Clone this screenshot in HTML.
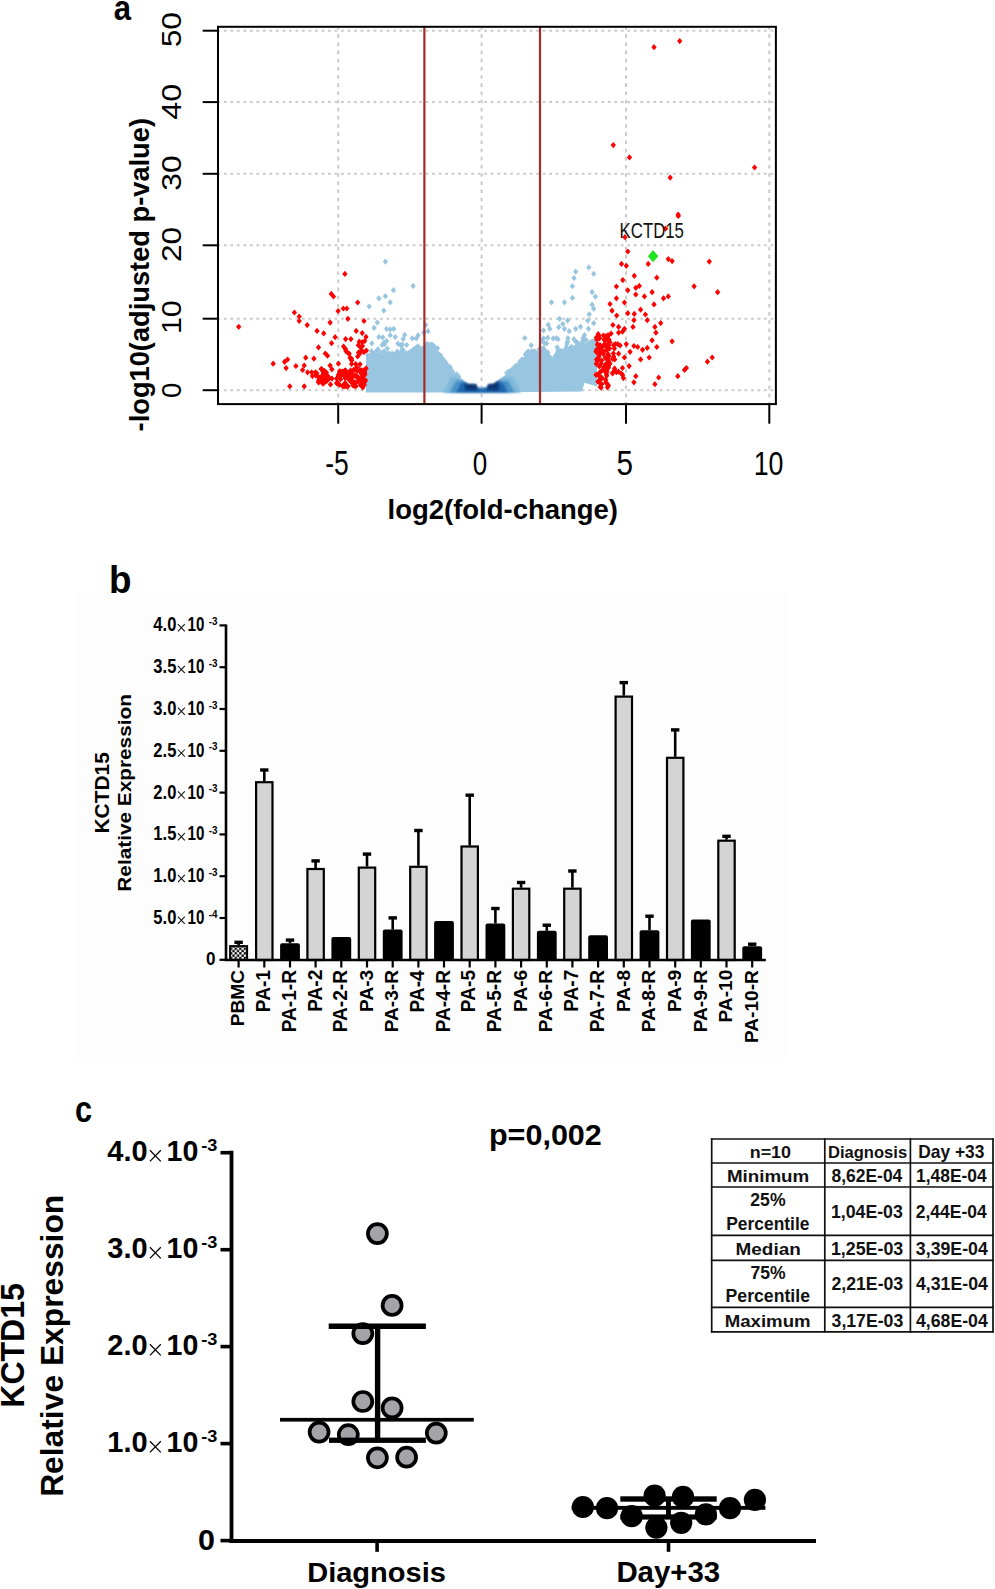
<!DOCTYPE html>
<html><head><meta charset="utf-8"><title>Figure</title>
<style>
html,body{margin:0;padding:0;background:#fff;}
body{width:995px;height:1589px;overflow:hidden;position:relative;}
svg{position:absolute;left:0;top:0;display:block;}
text{font-family:"Liberation Sans",sans-serif;}
</style></head><body>
<svg width="995" height="1589" viewBox="0 0 995 1589">
<defs><path id="dm" d="M0,-3.1L2.65,0L0,3.1L-2.65,0Z"/></defs>
<g stroke="#CACACA" stroke-width="2"><line x1="338.2" y1="27.5" x2="338.2" y2="403.5" stroke-dasharray="3.6 4.57" stroke-dashoffset="1.39"/><line x1="481.6" y1="27.5" x2="481.6" y2="403.5" stroke-dasharray="3.6 4.57" stroke-dashoffset="1.39"/><line x1="626.0" y1="27.5" x2="626.0" y2="403.5" stroke-dasharray="3.6 4.57" stroke-dashoffset="1.39"/><line x1="769.3" y1="27.5" x2="769.3" y2="403.5" stroke-dasharray="3.6 4.57" stroke-dashoffset="1.39"/><line x1="219" y1="390.2" x2="775" y2="390.2" stroke-dasharray="2.7 3.808" stroke-dashoffset="1.6"/><line x1="219" y1="318.7" x2="775" y2="318.7" stroke-dasharray="2.7 3.808" stroke-dashoffset="1.6"/><line x1="219" y1="245.3" x2="775" y2="245.3" stroke-dasharray="2.7 3.808" stroke-dashoffset="1.6"/><line x1="219" y1="173.8" x2="775" y2="173.8" stroke-dasharray="2.7 3.808" stroke-dashoffset="1.6"/><line x1="219" y1="102.1" x2="775" y2="102.1" stroke-dasharray="2.7 3.808" stroke-dashoffset="1.6"/><line x1="219" y1="30.7" x2="775" y2="30.7" stroke-dasharray="2.7 3.808" stroke-dashoffset="1.6"/></g>
<polygon fill="#98C5E0" points="366.0,392.5 366.0,356.0 373.0,354.5 380.0,355.5 386.0,355.0 393.0,354.0 399.0,352.5 406.0,354.0 412.0,351.0 419.0,347.0 423.0,347.0 428.0,344.5 434.5,347.0 438.4,354.0 445.0,363.0 451.5,369.6 458.0,376.0 464.5,381.4 467.5,383.5 476.0,383.8 477.5,387.3 482.0,387.3 482.0,392.5"/>
<polygon fill="#98C5E0" points="482.0,392.5 482.0,387.3 486.8,387.3 488.2,383.8 493.2,383.6 499.6,379.5 506.1,374.5 513.3,370.0 519.2,363.1 525.7,354.0 532.3,352.7 537.5,352.7 542.7,348.7 547.9,352.7 552.5,359.2 558.4,352.7 564.9,350.0 571.5,348.7 578.0,346.1 584.5,343.5 591.0,339.6 597.0,337.0 597.0,386.6 584.5,382.7 582.0,391.5"/>
<g fill="#98C5E0"><use href="#dm" x="368.0" y="355.4"/><use href="#dm" x="369.4" y="356.4"/><use href="#dm" x="370.7" y="355.6"/><use href="#dm" x="372.4" y="353.4"/><use href="#dm" x="374.3" y="353.3"/><use href="#dm" x="376.1" y="353.7"/><use href="#dm" x="377.5" y="355.3"/><use href="#dm" x="379.8" y="354.5"/><use href="#dm" x="381.3" y="356.4"/><use href="#dm" x="383.9" y="356.0"/><use href="#dm" x="385.6" y="357.4"/><use href="#dm" x="386.9" y="356.8"/><use href="#dm" x="388.5" y="353.7"/><use href="#dm" x="389.9" y="354.2"/><use href="#dm" x="392.2" y="353.3"/><use href="#dm" x="394.2" y="354.8"/><use href="#dm" x="395.9" y="354.0"/><use href="#dm" x="397.2" y="351.7"/><use href="#dm" x="398.7" y="353.8"/><use href="#dm" x="400.5" y="352.6"/><use href="#dm" x="402.5" y="353.6"/><use href="#dm" x="404.1" y="355.3"/><use href="#dm" x="406.3" y="353.3"/><use href="#dm" x="408.3" y="353.4"/><use href="#dm" x="410.8" y="353.0"/><use href="#dm" x="412.4" y="353.2"/><use href="#dm" x="413.7" y="350.2"/><use href="#dm" x="416.0" y="347.8"/><use href="#dm" x="417.9" y="346.3"/><use href="#dm" x="420.0" y="348.6"/><use href="#dm" x="422.0" y="349.0"/><use href="#dm" x="423.6" y="348.0"/><use href="#dm" x="425.7" y="346.5"/><use href="#dm" x="427.5" y="346.6"/><use href="#dm" x="430.0" y="345.7"/><use href="#dm" x="432.2" y="344.8"/><use href="#dm" x="434.4" y="348.0"/><use href="#dm" x="436.9" y="353.2"/><use href="#dm" x="438.5" y="354.2"/><use href="#dm" x="440.7" y="355.7"/><use href="#dm" x="442.5" y="358.8"/><use href="#dm" x="443.9" y="360.2"/><use href="#dm" x="446.2" y="363.2"/><use href="#dm" x="447.7" y="365.8"/><use href="#dm" x="450.1" y="367.0"/><use href="#dm" x="452.0" y="370.7"/><use href="#dm" x="454.4" y="374.2"/><use href="#dm" x="456.8" y="374.4"/><use href="#dm" x="458.6" y="376.4"/><use href="#dm" x="506.8" y="373.0"/><use href="#dm" x="508.8" y="371.5"/><use href="#dm" x="510.1" y="371.3"/><use href="#dm" x="511.6" y="370.9"/><use href="#dm" x="512.8" y="368.8"/><use href="#dm" x="514.3" y="367.8"/><use href="#dm" x="516.0" y="365.5"/><use href="#dm" x="518.4" y="365.0"/><use href="#dm" x="519.8" y="361.8"/><use href="#dm" x="521.5" y="359.9"/><use href="#dm" x="522.9" y="359.9"/><use href="#dm" x="525.4" y="354.7"/><use href="#dm" x="527.3" y="352.5"/><use href="#dm" x="528.7" y="353.3"/><use href="#dm" x="530.2" y="354.9"/><use href="#dm" x="531.7" y="351.4"/><use href="#dm" x="534.2" y="353.3"/><use href="#dm" x="535.6" y="353.4"/><use href="#dm" x="536.8" y="353.3"/><use href="#dm" x="539.4" y="353.2"/><use href="#dm" x="541.6" y="349.1"/><use href="#dm" x="543.3" y="348.3"/><use href="#dm" x="545.6" y="351.5"/><use href="#dm" x="547.9" y="352.5"/><use href="#dm" x="549.4" y="356.5"/><use href="#dm" x="552.0" y="360.3"/><use href="#dm" x="554.3" y="359.0"/><use href="#dm" x="556.5" y="354.2"/><use href="#dm" x="558.4" y="352.6"/><use href="#dm" x="559.7" y="350.8"/><use href="#dm" x="561.3" y="351.0"/><use href="#dm" x="563.4" y="352.9"/><use href="#dm" x="565.3" y="352.2"/><use href="#dm" x="567.9" y="351.7"/><use href="#dm" x="569.6" y="348.5"/><use href="#dm" x="571.1" y="348.1"/><use href="#dm" x="572.6" y="349.3"/><use href="#dm" x="575.0" y="349.1"/><use href="#dm" x="576.9" y="347.7"/><use href="#dm" x="579.2" y="344.5"/><use href="#dm" x="581.3" y="346.9"/><use href="#dm" x="583.6" y="345.3"/><use href="#dm" x="583.9" y="340.3"/><use href="#dm" x="406.8" y="355.9"/><use href="#dm" x="402.5" y="344.5"/><use href="#dm" x="551.9" y="360.5"/><use href="#dm" x="556.4" y="338.2"/><use href="#dm" x="397.9" y="355.7"/><use href="#dm" x="580.9" y="345.1"/><use href="#dm" x="566.8" y="343.9"/><use href="#dm" x="416.1" y="350.2"/><use href="#dm" x="434.8" y="349.2"/><use href="#dm" x="427.1" y="345.2"/><use href="#dm" x="397.9" y="343.7"/><use href="#dm" x="574.2" y="347.9"/><use href="#dm" x="577.2" y="345.9"/><use href="#dm" x="372.3" y="354.8"/><use href="#dm" x="409.7" y="355.1"/><use href="#dm" x="550.2" y="358.0"/><use href="#dm" x="533.3" y="351.6"/><use href="#dm" x="546.8" y="354.3"/><use href="#dm" x="424.7" y="347.6"/><use href="#dm" x="544.1" y="349.2"/><use href="#dm" x="541.3" y="340.6"/><use href="#dm" x="525.9" y="353.9"/><use href="#dm" x="582.7" y="341.2"/><use href="#dm" x="567.9" y="338.2"/><use href="#dm" x="427.2" y="343.8"/><use href="#dm" x="583.1" y="337.9"/><use href="#dm" x="399.3" y="354.9"/><use href="#dm" x="384.5" y="356.7"/><use href="#dm" x="384.7" y="352.6"/><use href="#dm" x="546.7" y="343.4"/><use href="#dm" x="403.2" y="350.1"/><use href="#dm" x="400.6" y="345.1"/><use href="#dm" x="418.1" y="335.3"/><use href="#dm" x="557.8" y="355.5"/><use href="#dm" x="412.6" y="351.7"/><use href="#dm" x="532.7" y="355.6"/><use href="#dm" x="372.1" y="355.7"/><use href="#dm" x="382.7" y="337.3"/><use href="#dm" x="547.7" y="337.8"/><use href="#dm" x="391.9" y="355.6"/><use href="#dm" x="377.0" y="350.5"/><use href="#dm" x="429.7" y="347.4"/><use href="#dm" x="575.8" y="341.4"/><use href="#dm" x="427.0" y="347.2"/><use href="#dm" x="577.6" y="345.0"/><use href="#dm" x="527.7" y="356.1"/><use href="#dm" x="381.1" y="352.6"/><use href="#dm" x="384.5" y="344.2"/><use href="#dm" x="550.8" y="359.3"/><use href="#dm" x="563.2" y="353.4"/><use href="#dm" x="564.7" y="350.1"/><use href="#dm" x="579.3" y="347.0"/><use href="#dm" x="397.5" y="352.1"/><use href="#dm" x="422.4" y="349.4"/><use href="#dm" x="404.8" y="356.5"/><use href="#dm" x="414.0" y="351.0"/><use href="#dm" x="437.5" y="348.3"/><use href="#dm" x="434.1" y="346.4"/><use href="#dm" x="408.6" y="353.6"/><use href="#dm" x="372.1" y="356.2"/><use href="#dm" x="371.5" y="351.2"/><use href="#dm" x="411.2" y="351.2"/><use href="#dm" x="581.1" y="347.3"/><use href="#dm" x="554.7" y="356.9"/><use href="#dm" x="558.3" y="353.3"/><use href="#dm" x="524.8" y="338.0"/><use href="#dm" x="557.8" y="350.3"/><use href="#dm" x="380.4" y="357.8"/><use href="#dm" x="384.1" y="351.4"/><use href="#dm" x="426.3" y="347.5"/><use href="#dm" x="387.3" y="348.6"/><use href="#dm" x="566.5" y="347.1"/><use href="#dm" x="432.3" y="347.8"/><use href="#dm" x="434.8" y="347.5"/><use href="#dm" x="403.9" y="353.6"/><use href="#dm" x="428.0" y="331.2"/><use href="#dm" x="423.7" y="332.8"/><use href="#dm" x="438.6" y="355.0"/><use href="#dm" x="368.2" y="356.1"/><use href="#dm" x="413.8" y="349.4"/><use href="#dm" x="369.1" y="356.8"/><use href="#dm" x="388.5" y="355.1"/><use href="#dm" x="377.5" y="358.0"/><use href="#dm" x="437.4" y="353.8"/><use href="#dm" x="539.1" y="349.1"/><use href="#dm" x="531.2" y="345.3"/><use href="#dm" x="402.1" y="349.7"/><use href="#dm" x="378.0" y="349.2"/><use href="#dm" x="571.4" y="346.8"/><use href="#dm" x="385.4" y="261.6"/><use href="#dm" x="413.1" y="286.0"/><use href="#dm" x="393.5" y="290.2"/><use href="#dm" x="385.4" y="296.2"/><use href="#dm" x="378.9" y="298.4"/><use href="#dm" x="390.2" y="302.3"/><use href="#dm" x="369.2" y="306.5"/><use href="#dm" x="383.8" y="310.6"/><use href="#dm" x="377.3" y="322.6"/><use href="#dm" x="374.1" y="327.9"/><use href="#dm" x="386.6" y="328.9"/><use href="#dm" x="390.2" y="329.4"/><use href="#dm" x="393.7" y="328.9"/><use href="#dm" x="390.2" y="335.2"/><use href="#dm" x="378.9" y="336.9"/><use href="#dm" x="395.2" y="336.9"/><use href="#dm" x="404.7" y="334.9"/><use href="#dm" x="403.2" y="338.9"/><use href="#dm" x="425.8" y="324.9"/><use href="#dm" x="371.9" y="343.3"/><use href="#dm" x="386.6" y="341.0"/><use href="#dm" x="384.1" y="342.5"/><use href="#dm" x="382.1" y="345.0"/><use href="#dm" x="412.3" y="338.4"/><use href="#dm" x="416.3" y="338.4"/><use href="#dm" x="401.2" y="345.0"/><use href="#dm" x="406.7" y="345.0"/><use href="#dm" x="430.4" y="344.5"/><use href="#dm" x="434.4" y="347.0"/><use href="#dm" x="575.7" y="271.7"/><use href="#dm" x="588.8" y="267.4"/><use href="#dm" x="593.7" y="273.8"/><use href="#dm" x="574.0" y="278.1"/><use href="#dm" x="572.4" y="286.2"/><use href="#dm" x="592.1" y="292.1"/><use href="#dm" x="595.4" y="296.6"/><use href="#dm" x="551.5" y="302.3"/><use href="#dm" x="564.4" y="302.3"/><use href="#dm" x="572.4" y="297.9"/><use href="#dm" x="592.1" y="304.7"/><use href="#dm" x="593.7" y="308.7"/><use href="#dm" x="589.3" y="314.3"/><use href="#dm" x="587.7" y="320.7"/><use href="#dm" x="559.6" y="318.8"/><use href="#dm" x="567.6" y="320.4"/><use href="#dm" x="562.8" y="324.0"/><use href="#dm" x="548.3" y="324.8"/><use href="#dm" x="549.9" y="328.8"/><use href="#dm" x="543.5" y="330.4"/><use href="#dm" x="558.8" y="327.2"/><use href="#dm" x="564.4" y="328.8"/><use href="#dm" x="569.2" y="331.2"/><use href="#dm" x="575.7" y="328.8"/><use href="#dm" x="580.5" y="326.8"/><use href="#dm" x="588.5" y="328.8"/><use href="#dm" x="593.7" y="323.2"/><use href="#dm" x="553.2" y="338.4"/><use href="#dm" x="558.0" y="339.2"/><use href="#dm" x="543.5" y="338.4"/><use href="#dm" x="544.3" y="343.2"/><use href="#dm" x="567.6" y="341.6"/><use href="#dm" x="574.0" y="339.2"/><use href="#dm" x="578.0" y="343.2"/><use href="#dm" x="584.5" y="335.2"/><use href="#dm" x="586.1" y="340.0"/><use href="#dm" x="557.2" y="347.3"/><use href="#dm" x="528.2" y="351.3"/><use href="#dm" x="534.7" y="351.3"/></g>
<defs><filter id="bl" x="-5%" y="-20%" width="110%" height="140%"><feGaussianBlur stdDeviation="0.9"/></filter></defs>
<g filter="url(#bl)"><polygon fill="#7FB8DA" points="451.0,377.0 453.1,377.0 455.1,377.0 457.2,377.0 459.3,377.5 461.3,379.2 463.4,380.9 465.5,382.5 467.5,383.9 469.6,384.0 471.7,384.0 473.7,384.1 475.8,384.2 477.9,387.7 479.9,387.7 482.0,387.7 484.1,387.7 486.1,387.7 488.2,384.2 490.3,384.1 492.3,384.0 494.4,383.2 496.5,381.9 498.5,380.6 500.6,379.1 502.7,377.5 504.7,377.0 506.8,377.0 508.9,377.0 510.9,377.0 513.0,377.0 521.0,392.8 443.0,392.8"/><polygon fill="#4A93C8" points="456.0,380.5 457.7,380.5 459.5,380.5 461.2,380.5 462.9,380.7 464.7,382.1 466.4,383.3 468.1,384.1 469.9,384.2 471.6,384.2 473.3,384.3 475.1,384.4 476.8,386.3 478.5,387.9 480.3,387.9 482.0,387.9 483.7,387.9 485.5,387.9 487.2,386.9 488.9,384.4 490.7,384.3 492.4,384.2 494.1,383.6 495.9,382.5 497.6,381.4 499.3,380.5 501.1,380.5 502.8,380.5 504.5,380.5 506.3,380.5 508.0,380.5 515.0,392.8 449.0,392.8"/><polygon fill="#1F67AE" points="461.0,382.5 462.4,382.5 463.8,382.5 465.2,382.5 466.6,383.5 468.0,384.1 469.4,384.2 470.8,384.2 472.2,384.3 473.6,384.3 475.0,384.4 476.4,385.3 477.8,387.9 479.2,387.9 480.6,387.9 482.0,387.9 483.4,387.9 484.8,387.9 486.2,387.9 487.6,385.9 489.0,384.4 490.4,384.3 491.8,384.3 493.2,384.2 494.6,383.3 496.0,382.5 497.4,382.5 498.8,382.5 500.2,382.5 501.6,382.5 503.0,382.5 508.0,392.8 456.0,392.8"/><polygon fill="#0C4288" points="464.5,381.8 465.6,382.6 466.8,383.4 467.9,383.9 469.0,384.0 470.1,384.0 471.2,384.0 472.4,384.1 473.5,384.1 474.6,384.2 475.8,384.2 476.9,386.2 478.0,387.7 478.0,391.0 464.5,391.0"/><polygon fill="#0C4288" points="486.5,387.7 487.6,385.7 488.7,384.2 489.8,384.1 490.8,384.1 491.9,384.1 493.0,384.0 494.1,383.4 495.2,382.7 496.2,382.0 497.3,381.4 498.4,380.7 499.5,380.0 499.5,391.0 486.5,391.0"/><polygon fill="#08306B" points="467.0,383.6 468.0,384.0 469.0,384.1 470.0,384.1 471.0,384.1 472.0,384.2 473.0,384.2 474.0,384.2 475.0,384.3 476.0,384.3 477.0,386.6 477.0,388.5 467.0,388.5"/><polygon fill="#08306B" points="488.0,384.8 488.9,384.3 489.8,384.2 490.7,384.2 491.6,384.2 492.5,384.1 493.4,384.0 494.3,383.4 495.2,382.8 496.1,382.2 497.0,381.7 497.0,388.5 488.0,388.5"/></g>
<g fill="#FF0000"><use href="#dm" x="238.7" y="326.8"/><use href="#dm" x="344.9" y="273.9"/><use href="#dm" x="331.3" y="293.9"/><use href="#dm" x="333.5" y="296.5"/><use href="#dm" x="357.7" y="302.5"/><use href="#dm" x="338.1" y="311.0"/><use href="#dm" x="343.3" y="308.5"/><use href="#dm" x="346.8" y="308.5"/><use href="#dm" x="294.4" y="312.5"/><use href="#dm" x="299.2" y="316.5"/><use href="#dm" x="299.2" y="321.0"/><use href="#dm" x="347.9" y="318.8"/><use href="#dm" x="364.0" y="321.0"/><use href="#dm" x="330.1" y="322.6"/><use href="#dm" x="307.2" y="325.1"/><use href="#dm" x="317.0" y="330.9"/><use href="#dm" x="323.7" y="333.4"/><use href="#dm" x="356.2" y="330.9"/><use href="#dm" x="362.2" y="333.1"/><use href="#dm" x="366.0" y="336.9"/><use href="#dm" x="335.1" y="337.2"/><use href="#dm" x="345.6" y="339.1"/><use href="#dm" x="350.9" y="339.1"/><use href="#dm" x="331.6" y="343.2"/><use href="#dm" x="358.4" y="345.2"/><use href="#dm" x="362.2" y="342.2"/><use href="#dm" x="360.7" y="347.4"/><use href="#dm" x="318.5" y="347.4"/><use href="#dm" x="345.6" y="349.0"/><use href="#dm" x="325.3" y="353.5"/><use href="#dm" x="327.5" y="355.7"/><use href="#dm" x="348.6" y="353.5"/><use href="#dm" x="350.1" y="358.0"/><use href="#dm" x="357.7" y="356.5"/><use href="#dm" x="305.7" y="357.7"/><use href="#dm" x="313.9" y="358.7"/><use href="#dm" x="287.6" y="359.5"/><use href="#dm" x="284.6" y="361.8"/><use href="#dm" x="273.2" y="363.7"/><use href="#dm" x="286.1" y="368.1"/><use href="#dm" x="295.9" y="366.0"/><use href="#dm" x="304.2" y="365.5"/><use href="#dm" x="302.6" y="370.0"/><use href="#dm" x="330.1" y="365.5"/><use href="#dm" x="338.4" y="363.7"/><use href="#dm" x="351.6" y="364.0"/><use href="#dm" x="307.6" y="372.3"/><use href="#dm" x="311.7" y="372.3"/><use href="#dm" x="315.5" y="372.3"/><use href="#dm" x="312.4" y="376.1"/><use href="#dm" x="289.8" y="386.3"/><use href="#dm" x="304.2" y="386.3"/><use href="#dm" x="330.5" y="384.4"/><use href="#dm" x="627.8" y="251.5"/><use href="#dm" x="621.5" y="263.9"/><use href="#dm" x="626.3" y="265.8"/><use href="#dm" x="648.2" y="263.9"/><use href="#dm" x="668.3" y="259.1"/><use href="#dm" x="672.1" y="261.1"/><use href="#dm" x="709.3" y="261.6"/><use href="#dm" x="634.3" y="275.8"/><use href="#dm" x="656.8" y="277.7"/><use href="#dm" x="622.8" y="280.1"/><use href="#dm" x="694.1" y="286.3"/><use href="#dm" x="717.6" y="292.2"/><use href="#dm" x="616.4" y="286.5"/><use href="#dm" x="627.8" y="290.3"/><use href="#dm" x="635.8" y="287.8"/><use href="#dm" x="639.3" y="285.9"/><use href="#dm" x="635.8" y="294.5"/><use href="#dm" x="644.4" y="296.4"/><use href="#dm" x="652.1" y="292.2"/><use href="#dm" x="663.5" y="298.3"/><use href="#dm" x="668.3" y="296.4"/><use href="#dm" x="616.4" y="298.3"/><use href="#dm" x="624.4" y="302.5"/><use href="#dm" x="654.0" y="304.4"/><use href="#dm" x="610.0" y="304.0"/><use href="#dm" x="612.0" y="310.7"/><use href="#dm" x="616.7" y="315.5"/><use href="#dm" x="627.8" y="313.2"/><use href="#dm" x="634.3" y="313.9"/><use href="#dm" x="640.6" y="309.7"/><use href="#dm" x="645.4" y="314.5"/><use href="#dm" x="633.9" y="320.2"/><use href="#dm" x="647.3" y="320.2"/><use href="#dm" x="660.7" y="323.1"/><use href="#dm" x="654.9" y="326.9"/><use href="#dm" x="655.9" y="332.7"/><use href="#dm" x="633.0" y="326.9"/><use href="#dm" x="612.9" y="325.0"/><use href="#dm" x="618.6" y="326.9"/><use href="#dm" x="624.4" y="328.8"/><use href="#dm" x="598.6" y="335.5"/><use href="#dm" x="603.4" y="335.5"/><use href="#dm" x="611.0" y="333.6"/><use href="#dm" x="618.6" y="332.7"/><use href="#dm" x="622.5" y="331.7"/><use href="#dm" x="672.1" y="341.3"/><use href="#dm" x="652.1" y="340.3"/><use href="#dm" x="656.8" y="347.0"/><use href="#dm" x="633.9" y="346.0"/><use href="#dm" x="637.7" y="347.0"/><use href="#dm" x="642.5" y="349.8"/><use href="#dm" x="647.3" y="347.9"/><use href="#dm" x="626.3" y="344.1"/><use href="#dm" x="617.7" y="344.1"/><use href="#dm" x="610.0" y="342.2"/><use href="#dm" x="605.3" y="346.0"/><use href="#dm" x="601.5" y="349.8"/><use href="#dm" x="630.1" y="351.8"/><use href="#dm" x="618.6" y="353.7"/><use href="#dm" x="624.4" y="357.5"/><use href="#dm" x="640.6" y="359.4"/><use href="#dm" x="649.2" y="357.5"/><use href="#dm" x="614.8" y="359.4"/><use href="#dm" x="609.1" y="363.2"/><use href="#dm" x="605.3" y="365.1"/><use href="#dm" x="629.1" y="366.1"/><use href="#dm" x="622.5" y="368.0"/><use href="#dm" x="612.9" y="372.8"/><use href="#dm" x="601.5" y="370.9"/><use href="#dm" x="599.5" y="376.6"/><use href="#dm" x="707.4" y="361.7"/><use href="#dm" x="712.2" y="357.5"/><use href="#dm" x="686.4" y="368.0"/><use href="#dm" x="684.5" y="369.9"/><use href="#dm" x="677.8" y="376.2"/><use href="#dm" x="658.7" y="377.5"/><use href="#dm" x="654.9" y="384.2"/><use href="#dm" x="635.8" y="376.2"/><use href="#dm" x="633.9" y="382.3"/><use href="#dm" x="623.4" y="378.1"/><use href="#dm" x="601.5" y="384.2"/><use href="#dm" x="598.6" y="381.4"/><use href="#dm" x="624.9" y="237.2"/><use href="#dm" x="665.6" y="228.6"/><use href="#dm" x="678.3" y="215.9"/><use href="#dm" x="654.0" y="47.2"/><use href="#dm" x="679.7" y="41.1"/><use href="#dm" x="613.3" y="145.1"/><use href="#dm" x="629.5" y="157.4"/><use href="#dm" x="754.6" y="167.5"/><use href="#dm" x="670.2" y="177.6"/><use href="#dm" x="678.2" y="214.5"/><use href="#dm" x="323.9" y="371.3"/><use href="#dm" x="318.7" y="377.6"/><use href="#dm" x="318.4" y="382.3"/><use href="#dm" x="324.3" y="382.6"/><use href="#dm" x="318.7" y="380.3"/><use href="#dm" x="321.1" y="380.4"/><use href="#dm" x="324.6" y="371.2"/><use href="#dm" x="325.3" y="375.0"/><use href="#dm" x="329.3" y="378.2"/><use href="#dm" x="328.2" y="379.4"/><use href="#dm" x="321.1" y="377.1"/><use href="#dm" x="321.1" y="369.1"/><use href="#dm" x="326.1" y="377.3"/><use href="#dm" x="319.4" y="377.8"/><use href="#dm" x="323.9" y="381.2"/><use href="#dm" x="323.5" y="373.2"/><use href="#dm" x="326.7" y="381.0"/><use href="#dm" x="325.6" y="372.4"/><use href="#dm" x="323.9" y="377.2"/><use href="#dm" x="315.8" y="375.3"/><use href="#dm" x="319.7" y="381.7"/><use href="#dm" x="325.1" y="379.2"/><use href="#dm" x="323.7" y="371.4"/><use href="#dm" x="323.5" y="373.2"/><use href="#dm" x="324.4" y="378.4"/><use href="#dm" x="321.8" y="369.2"/><use href="#dm" x="326.9" y="380.1"/><use href="#dm" x="325.4" y="380.4"/><use href="#dm" x="323.3" y="377.5"/><use href="#dm" x="322.1" y="376.7"/><use href="#dm" x="322.9" y="383.7"/><use href="#dm" x="324.8" y="372.3"/><use href="#dm" x="331.9" y="369.3"/><use href="#dm" x="323.5" y="376.6"/><use href="#dm" x="328.1" y="376.4"/><use href="#dm" x="316.9" y="373.4"/><use href="#dm" x="326.4" y="372.5"/><use href="#dm" x="332.0" y="378.6"/><use href="#dm" x="340.6" y="379.2"/><use href="#dm" x="364.1" y="372.3"/><use href="#dm" x="360.3" y="378.9"/><use href="#dm" x="362.2" y="382.3"/><use href="#dm" x="343.2" y="385.7"/><use href="#dm" x="350.6" y="370.4"/><use href="#dm" x="336.6" y="378.6"/><use href="#dm" x="349.6" y="375.3"/><use href="#dm" x="340.6" y="376.0"/><use href="#dm" x="345.7" y="384.7"/><use href="#dm" x="336.6" y="383.1"/><use href="#dm" x="360.8" y="372.1"/><use href="#dm" x="363.4" y="382.5"/><use href="#dm" x="362.6" y="375.1"/><use href="#dm" x="347.3" y="376.9"/><use href="#dm" x="365.5" y="380.3"/><use href="#dm" x="347.0" y="377.5"/><use href="#dm" x="344.5" y="370.8"/><use href="#dm" x="339.4" y="384.6"/><use href="#dm" x="344.8" y="386.4"/><use href="#dm" x="343.7" y="374.7"/><use href="#dm" x="351.3" y="373.3"/><use href="#dm" x="347.3" y="386.7"/><use href="#dm" x="362.1" y="384.2"/><use href="#dm" x="354.8" y="386.0"/><use href="#dm" x="363.8" y="379.6"/><use href="#dm" x="357.4" y="370.9"/><use href="#dm" x="357.7" y="377.9"/><use href="#dm" x="358.3" y="381.3"/><use href="#dm" x="344.8" y="370.9"/><use href="#dm" x="363.4" y="372.2"/><use href="#dm" x="350.2" y="376.0"/><use href="#dm" x="345.1" y="382.9"/><use href="#dm" x="364.8" y="374.6"/><use href="#dm" x="355.5" y="375.3"/><use href="#dm" x="352.7" y="376.9"/><use href="#dm" x="341.4" y="372.8"/><use href="#dm" x="342.5" y="385.9"/><use href="#dm" x="350.9" y="373.9"/><use href="#dm" x="362.8" y="387.4"/><use href="#dm" x="349.5" y="372.4"/><use href="#dm" x="342.1" y="371.6"/><use href="#dm" x="346.4" y="371.6"/><use href="#dm" x="343.4" y="374.5"/><use href="#dm" x="353.0" y="385.5"/><use href="#dm" x="358.2" y="377.2"/><use href="#dm" x="348.5" y="379.2"/><use href="#dm" x="347.4" y="375.9"/><use href="#dm" x="338.3" y="374.9"/><use href="#dm" x="364.6" y="372.2"/><use href="#dm" x="351.1" y="381.0"/><use href="#dm" x="361.5" y="373.8"/><use href="#dm" x="344.4" y="374.3"/><use href="#dm" x="348.1" y="377.8"/><use href="#dm" x="364.2" y="384.9"/><use href="#dm" x="361.8" y="370.4"/><use href="#dm" x="337.4" y="382.4"/><use href="#dm" x="362.5" y="378.3"/><use href="#dm" x="353.5" y="370.0"/><use href="#dm" x="347.9" y="386.2"/><use href="#dm" x="360.4" y="385.0"/><use href="#dm" x="364.7" y="374.3"/><use href="#dm" x="339.7" y="372.7"/><use href="#dm" x="351.6" y="381.9"/><use href="#dm" x="363.8" y="382.6"/><use href="#dm" x="355.3" y="383.4"/><use href="#dm" x="349.8" y="379.7"/><use href="#dm" x="337.6" y="383.7"/><use href="#dm" x="343.2" y="386.1"/><use href="#dm" x="355.2" y="375.3"/><use href="#dm" x="340.2" y="374.4"/><use href="#dm" x="355.0" y="382.2"/><use href="#dm" x="339.8" y="371.2"/><use href="#dm" x="351.7" y="380.2"/><use href="#dm" x="347.8" y="373.9"/><use href="#dm" x="353.9" y="370.2"/><use href="#dm" x="345.2" y="378.1"/><use href="#dm" x="364.3" y="381.3"/><use href="#dm" x="362.1" y="378.3"/><use href="#dm" x="343.3" y="374.3"/><use href="#dm" x="364.4" y="382.3"/><use href="#dm" x="345.4" y="370.4"/><use href="#dm" x="351.0" y="381.8"/><use href="#dm" x="348.7" y="374.5"/><use href="#dm" x="355.9" y="386.2"/><use href="#dm" x="343.6" y="346.6"/><use href="#dm" x="345.9" y="351.1"/><use href="#dm" x="349.2" y="353.8"/><use href="#dm" x="351.5" y="358.7"/><use href="#dm" x="351.7" y="360.4"/><use href="#dm" x="355.7" y="364.1"/><use href="#dm" x="356.6" y="367.2"/><use href="#dm" x="360.0" y="364.3"/><use href="#dm" x="360.7" y="370.5"/><use href="#dm" x="362.5" y="346.0"/><use href="#dm" x="360.0" y="353.3"/><use href="#dm" x="364.0" y="370.4"/><use href="#dm" x="359.3" y="352.6"/><use href="#dm" x="359.9" y="371.2"/><use href="#dm" x="359.3" y="341.7"/><use href="#dm" x="358.5" y="352.6"/><use href="#dm" x="366.1" y="368.3"/><use href="#dm" x="364.6" y="371.9"/><use href="#dm" x="366.4" y="350.5"/><use href="#dm" x="359.7" y="369.9"/><use href="#dm" x="364.7" y="341.0"/><use href="#dm" x="364.0" y="352.1"/><use href="#dm" x="361.4" y="350.6"/><use href="#dm" x="598.2" y="334.2"/><use href="#dm" x="599.6" y="353.0"/><use href="#dm" x="608.4" y="340.7"/><use href="#dm" x="608.5" y="345.2"/><use href="#dm" x="600.6" y="378.4"/><use href="#dm" x="606.7" y="357.4"/><use href="#dm" x="596.6" y="359.6"/><use href="#dm" x="600.8" y="383.7"/><use href="#dm" x="598.5" y="353.7"/><use href="#dm" x="607.7" y="335.6"/><use href="#dm" x="601.3" y="377.8"/><use href="#dm" x="606.0" y="336.2"/><use href="#dm" x="596.5" y="337.4"/><use href="#dm" x="608.0" y="347.9"/><use href="#dm" x="605.7" y="382.5"/><use href="#dm" x="600.4" y="348.7"/><use href="#dm" x="608.4" y="367.3"/><use href="#dm" x="599.4" y="372.7"/><use href="#dm" x="600.1" y="348.9"/><use href="#dm" x="596.0" y="374.8"/><use href="#dm" x="607.9" y="368.2"/><use href="#dm" x="608.3" y="335.3"/><use href="#dm" x="599.0" y="359.7"/><use href="#dm" x="608.4" y="385.5"/><use href="#dm" x="601.0" y="347.6"/><use href="#dm" x="601.6" y="360.6"/><use href="#dm" x="608.1" y="343.9"/><use href="#dm" x="606.4" y="373.9"/><use href="#dm" x="606.7" y="375.7"/><use href="#dm" x="603.9" y="351.7"/><use href="#dm" x="600.2" y="353.5"/><use href="#dm" x="606.2" y="338.3"/><use href="#dm" x="598.6" y="374.7"/><use href="#dm" x="599.2" y="337.5"/><use href="#dm" x="596.4" y="363.8"/><use href="#dm" x="600.2" y="386.9"/><use href="#dm" x="607.5" y="387.3"/><use href="#dm" x="599.4" y="338.5"/><use href="#dm" x="597.3" y="360.9"/><use href="#dm" x="605.2" y="358.1"/><use href="#dm" x="599.0" y="356.5"/><use href="#dm" x="604.1" y="370.4"/><use href="#dm" x="605.7" y="379.7"/><use href="#dm" x="604.6" y="340.5"/><use href="#dm" x="606.9" y="349.9"/><use href="#dm" x="603.4" y="354.1"/><use href="#dm" x="605.6" y="344.8"/><use href="#dm" x="599.2" y="347.2"/><use href="#dm" x="598.0" y="381.7"/><use href="#dm" x="603.5" y="351.6"/><use href="#dm" x="601.1" y="387.6"/><use href="#dm" x="602.6" y="346.5"/><use href="#dm" x="606.5" y="369.3"/><use href="#dm" x="608.9" y="339.5"/><use href="#dm" x="602.2" y="378.2"/><use href="#dm" x="606.9" y="383.4"/><use href="#dm" x="596.5" y="349.9"/><use href="#dm" x="597.5" y="344.2"/><use href="#dm" x="608.6" y="365.5"/><use href="#dm" x="608.1" y="354.1"/><use href="#dm" x="607.3" y="358.3"/><use href="#dm" x="599.4" y="376.0"/><use href="#dm" x="608.3" y="339.7"/><use href="#dm" x="603.7" y="367.5"/><use href="#dm" x="598.8" y="353.9"/><use href="#dm" x="597.8" y="345.0"/><use href="#dm" x="599.3" y="366.4"/><use href="#dm" x="604.5" y="345.0"/><use href="#dm" x="596.1" y="351.7"/><use href="#dm" x="604.8" y="344.0"/><use href="#dm" x="600.1" y="345.0"/><use href="#dm" x="606.3" y="363.6"/><use href="#dm" x="596.8" y="339.5"/><use href="#dm" x="601.1" y="363.7"/><use href="#dm" x="604.3" y="338.9"/><use href="#dm" x="609.9" y="363.7"/><use href="#dm" x="614.4" y="348.5"/><use href="#dm" x="612.5" y="373.3"/><use href="#dm" x="612.6" y="359.0"/><use href="#dm" x="613.4" y="353.4"/><use href="#dm" x="622.6" y="374.9"/><use href="#dm" x="613.5" y="345.3"/><use href="#dm" x="620.1" y="345.5"/><use href="#dm" x="607.1" y="371.4"/><use href="#dm" x="614.6" y="368.4"/><use href="#dm" x="614.3" y="370.7"/><use href="#dm" x="615.3" y="344.0"/><use href="#dm" x="607.3" y="358.4"/><use href="#dm" x="618.5" y="371.7"/><use href="#dm" x="608.6" y="361.0"/><use href="#dm" x="613.7" y="356.7"/><use href="#dm" x="609.6" y="348.5"/><use href="#dm" x="616.4" y="372.2"/><use href="#dm" x="609.0" y="356.1"/><use href="#dm" x="621.5" y="373.8"/></g>
<g stroke="#A52A2A" stroke-width="2.2"><line x1="424.4" y1="27" x2="424.4" y2="404"/><line x1="540.0" y1="27" x2="540.0" y2="404"/></g>
<polygon fill="#1EE61E" points="653.1,250.1 658.3,256.2 653.1,262.3 647.9,256.2"/>
<text transform="translate(619.56,237.87) scale(0.7316,1)" font-size="22.96" font-weight="normal" fill="#111">KCTD15</text>
<rect x="218" y="26.8" width="557.9" height="377.3" fill="none" stroke="#000" stroke-width="2"/>
<g stroke="#000" stroke-width="2"><line x1="202.7" y1="390.2" x2="218" y2="390.2"/><line x1="202.7" y1="318.7" x2="218" y2="318.7"/><line x1="202.7" y1="245.3" x2="218" y2="245.3"/><line x1="202.7" y1="173.8" x2="218" y2="173.8"/><line x1="202.7" y1="102.1" x2="218" y2="102.1"/><line x1="202.7" y1="30.7" x2="218" y2="30.7"/><line x1="338.2" y1="404" x2="338.2" y2="423.7"/><line x1="481.6" y1="404" x2="481.6" y2="423.7"/><line x1="626.0" y1="404" x2="626.0" y2="423.7"/><line x1="769.3" y1="404" x2="769.3" y2="423.7"/></g>
<text transform="translate(180.93,47.27) rotate(-90) scale(1.1719,1)" font-size="27.04" font-weight="normal" fill="#000">50</text>
<text transform="translate(180.93,119.74) rotate(-90) scale(1.1917,1)" font-size="27.04" font-weight="normal" fill="#000">40</text>
<text transform="translate(180.93,190.67) rotate(-90) scale(1.1755,1)" font-size="27.04" font-weight="normal" fill="#000">30</text>
<text transform="translate(180.93,261.98) rotate(-90) scale(1.1689,1)" font-size="27.04" font-weight="normal" fill="#000">20</text>
<text transform="translate(180.93,334.09) rotate(-90) scale(1.1279,1)" font-size="27.04" font-weight="normal" fill="#000">10</text>
<text transform="translate(180.93,398.01) rotate(-90) scale(1.0246,1)" font-size="27.04" font-weight="normal" fill="#000">0</text>
<text transform="translate(325.31,475.06) scale(0.7685,1)" font-size="34.43" font-weight="normal" fill="#000">-5</text>
<text transform="translate(472.76,475.06) scale(0.7672,1)" font-size="33.94" font-weight="normal" fill="#000">0</text>
<text transform="translate(616.41,475.06) scale(0.8622,1)" font-size="34.43" font-weight="normal" fill="#000">5</text>
<text transform="translate(753.69,475.06) scale(0.7895,1)" font-size="33.94" font-weight="normal" fill="#000">10</text>
<text transform="translate(387.58,519.04) scale(1.0193,1)" font-size="26.95" font-weight="bold" fill="#000">log2(fold-change)</text>
<text transform="translate(148.99,431.39) rotate(-90) scale(0.9689,1)" font-size="28.13" font-weight="bold" fill="#000">-log10(adjusted p-value)</text>
<text transform="translate(113.87,19.75) scale(0.8797,1)" font-size="35.27" font-weight="bold" fill="#000">a</text>
<rect x="75.5" y="592" width="710.5" height="465.7" fill="#FDFDFD"/>
<defs><pattern id="chk" x="0" y="0" width="4.6" height="4.6" patternUnits="userSpaceOnUse"><rect width="4.6" height="4.6" fill="#fff"/><rect width="2.3" height="2.3" fill="#000"/><rect x="2.3" y="2.3" width="2.3" height="2.3" fill="#000"/></pattern></defs>
<line x1="238.6" y1="945.1" x2="238.6" y2="942.8" stroke="#000" stroke-width="2.6"/>
<rect x="234.4" y="940.6" width="8.4" height="3.4" fill="#000"/>
<rect x="230.1" y="946.1" width="17" height="13.9" fill="url(#chk)" stroke="#000" stroke-width="2"/>
<line x1="264.3" y1="781.2" x2="264.3" y2="770.5" stroke="#000" stroke-width="2.6"/>
<rect x="260.1" y="768.3" width="8.4" height="3.4" fill="#000"/>
<rect x="256.1" y="782.2" width="16.4" height="177.8" fill="#D4D4D4" stroke="#000" stroke-width="2.2"/>
<line x1="290.0" y1="943.2" x2="290.0" y2="940.6" stroke="#000" stroke-width="2.6"/>
<rect x="285.8" y="938.4" width="8.4" height="3.4" fill="#000"/>
<rect x="280.1" y="943.2" width="19.8" height="17.8" rx="2" fill="#000"/>
<line x1="315.6" y1="868.0" x2="315.6" y2="861.4" stroke="#000" stroke-width="2.6"/>
<rect x="311.4" y="859.2" width="8.4" height="3.4" fill="#000"/>
<rect x="307.4" y="869.0" width="16.4" height="91.0" fill="#D4D4D4" stroke="#000" stroke-width="2.2"/>
<rect x="331.4" y="937.0" width="19.8" height="24.0" rx="2" fill="#000"/>
<line x1="367.0" y1="866.6" x2="367.0" y2="854.6" stroke="#000" stroke-width="2.6"/>
<rect x="362.8" y="852.4" width="8.4" height="3.4" fill="#000"/>
<rect x="358.8" y="867.6" width="16.4" height="92.4" fill="#D4D4D4" stroke="#000" stroke-width="2.2"/>
<line x1="392.7" y1="929.6" x2="392.7" y2="918.4" stroke="#000" stroke-width="2.6"/>
<rect x="388.5" y="916.2" width="8.4" height="3.4" fill="#000"/>
<rect x="382.8" y="929.6" width="19.8" height="31.4" rx="2" fill="#000"/>
<line x1="418.4" y1="865.8" x2="418.4" y2="831.0" stroke="#000" stroke-width="2.6"/>
<rect x="414.2" y="828.8" width="8.4" height="3.4" fill="#000"/>
<rect x="410.2" y="866.8" width="16.4" height="93.2" fill="#D4D4D4" stroke="#000" stroke-width="2.2"/>
<rect x="434.1" y="920.9" width="19.8" height="40.1" rx="2" fill="#000"/>
<line x1="469.7" y1="845.5" x2="469.7" y2="795.7" stroke="#000" stroke-width="2.6"/>
<rect x="465.5" y="793.5" width="8.4" height="3.4" fill="#000"/>
<rect x="461.5" y="846.5" width="16.4" height="113.5" fill="#D4D4D4" stroke="#000" stroke-width="2.2"/>
<line x1="495.4" y1="923.4" x2="495.4" y2="909.0" stroke="#000" stroke-width="2.6"/>
<rect x="491.2" y="906.8" width="8.4" height="3.4" fill="#000"/>
<rect x="485.5" y="923.4" width="19.8" height="37.6" rx="2" fill="#000"/>
<line x1="521.1" y1="887.7" x2="521.1" y2="883.0" stroke="#000" stroke-width="2.6"/>
<rect x="516.9" y="880.8" width="8.4" height="3.4" fill="#000"/>
<rect x="512.9" y="888.7" width="16.4" height="71.3" fill="#D4D4D4" stroke="#000" stroke-width="2.2"/>
<line x1="546.8" y1="930.8" x2="546.8" y2="925.7" stroke="#000" stroke-width="2.6"/>
<rect x="542.6" y="923.5" width="8.4" height="3.4" fill="#000"/>
<rect x="536.9" y="930.8" width="19.8" height="30.2" rx="2" fill="#000"/>
<line x1="572.4" y1="887.7" x2="572.4" y2="871.5" stroke="#000" stroke-width="2.6"/>
<rect x="568.2" y="869.3" width="8.4" height="3.4" fill="#000"/>
<rect x="564.2" y="888.7" width="16.4" height="71.3" fill="#D4D4D4" stroke="#000" stroke-width="2.2"/>
<rect x="588.2" y="935.3" width="19.8" height="25.7" rx="2" fill="#000"/>
<line x1="623.8" y1="695.6" x2="623.8" y2="683.1" stroke="#000" stroke-width="2.6"/>
<rect x="619.6" y="680.9" width="8.4" height="3.4" fill="#000"/>
<rect x="615.6" y="696.6" width="16.4" height="263.4" fill="#D4D4D4" stroke="#000" stroke-width="2.2"/>
<line x1="649.5" y1="930.2" x2="649.5" y2="916.7" stroke="#000" stroke-width="2.6"/>
<rect x="645.3" y="914.5" width="8.4" height="3.4" fill="#000"/>
<rect x="639.6" y="930.2" width="19.8" height="30.8" rx="2" fill="#000"/>
<line x1="675.2" y1="756.8" x2="675.2" y2="730.4" stroke="#000" stroke-width="2.6"/>
<rect x="671.0" y="728.2" width="8.4" height="3.4" fill="#000"/>
<rect x="667.0" y="757.8" width="16.4" height="202.2" fill="#D4D4D4" stroke="#000" stroke-width="2.2"/>
<rect x="690.9" y="919.6" width="19.8" height="41.4" rx="2" fill="#000"/>
<line x1="726.5" y1="839.7" x2="726.5" y2="836.8" stroke="#000" stroke-width="2.6"/>
<rect x="722.3" y="834.6" width="8.4" height="3.4" fill="#000"/>
<rect x="718.3" y="840.7" width="16.4" height="119.3" fill="#D4D4D4" stroke="#000" stroke-width="2.2"/>
<line x1="752.2" y1="946.2" x2="752.2" y2="944.7" stroke="#000" stroke-width="2.6"/>
<rect x="748.0" y="942.5" width="8.4" height="3.4" fill="#000"/>
<rect x="742.3" y="946.2" width="19.8" height="14.8" rx="2" fill="#000"/>
<line x1="226" y1="624.4" x2="226" y2="961" stroke="#000" stroke-width="2.6"/>
<line x1="224.7" y1="960" x2="765.8" y2="960" stroke="#000" stroke-width="2.6"/>
<g stroke="#000" stroke-width="2.2"><line x1="219.5" y1="959.8" x2="226" y2="959.8"/><line x1="219.5" y1="918.0" x2="226" y2="918.0"/><line x1="219.5" y1="876.2" x2="226" y2="876.2"/><line x1="219.5" y1="834.4" x2="226" y2="834.4"/><line x1="219.5" y1="792.6" x2="226" y2="792.6"/><line x1="219.5" y1="750.8" x2="226" y2="750.8"/><line x1="219.5" y1="709.0" x2="226" y2="709.0"/><line x1="219.5" y1="667.2" x2="226" y2="667.2"/><line x1="219.5" y1="625.4" x2="226" y2="625.4"/><line x1="238.6" y1="960" x2="238.6" y2="967.5"/><line x1="264.3" y1="960" x2="264.3" y2="967.5"/><line x1="290.0" y1="960" x2="290.0" y2="967.5"/><line x1="315.6" y1="960" x2="315.6" y2="967.5"/><line x1="341.3" y1="960" x2="341.3" y2="967.5"/><line x1="367.0" y1="960" x2="367.0" y2="967.5"/><line x1="392.7" y1="960" x2="392.7" y2="967.5"/><line x1="418.4" y1="960" x2="418.4" y2="967.5"/><line x1="444.0" y1="960" x2="444.0" y2="967.5"/><line x1="469.7" y1="960" x2="469.7" y2="967.5"/><line x1="495.4" y1="960" x2="495.4" y2="967.5"/><line x1="521.1" y1="960" x2="521.1" y2="967.5"/><line x1="546.8" y1="960" x2="546.8" y2="967.5"/><line x1="572.4" y1="960" x2="572.4" y2="967.5"/><line x1="598.1" y1="960" x2="598.1" y2="967.5"/><line x1="623.8" y1="960" x2="623.8" y2="967.5"/><line x1="649.5" y1="960" x2="649.5" y2="967.5"/><line x1="675.2" y1="960" x2="675.2" y2="967.5"/><line x1="700.8" y1="960" x2="700.8" y2="967.5"/><line x1="726.5" y1="960" x2="726.5" y2="967.5"/><line x1="752.2" y1="960" x2="752.2" y2="967.5"/></g>
<text transform="translate(153.35,923.90) scale(0.8579,1)" font-size="19.30" font-weight="bold" fill="#000">5.0</text>
<path d="M177.9,916.70L184.8,923.90M184.8,916.70L177.9,923.90" stroke="#111" stroke-width="1.05" fill="none"/>
<text transform="translate(187.49,923.90) scale(0.7851,1)" font-size="19.30" font-weight="bold" fill="#000">10</text>
<text transform="translate(208.71,917.69) scale(0.8604,1)" font-size="11.41" font-weight="bold" fill="#000">-4</text>
<text transform="translate(153.35,882.10) scale(0.8579,1)" font-size="19.30" font-weight="bold" fill="#000">1.0</text>
<path d="M177.9,874.90L184.8,882.10M184.8,874.90L177.9,882.10" stroke="#111" stroke-width="1.05" fill="none"/>
<text transform="translate(187.49,882.10) scale(0.7851,1)" font-size="19.30" font-weight="bold" fill="#000">10</text>
<text transform="translate(208.71,875.89) scale(0.8604,1)" font-size="11.41" font-weight="bold" fill="#000">-3</text>
<text transform="translate(153.35,840.30) scale(0.8579,1)" font-size="19.30" font-weight="bold" fill="#000">1.5</text>
<path d="M177.9,833.10L184.8,840.30M184.8,833.10L177.9,840.30" stroke="#111" stroke-width="1.05" fill="none"/>
<text transform="translate(187.49,840.30) scale(0.7851,1)" font-size="19.30" font-weight="bold" fill="#000">10</text>
<text transform="translate(208.71,834.09) scale(0.8604,1)" font-size="11.41" font-weight="bold" fill="#000">-3</text>
<text transform="translate(153.35,798.50) scale(0.8579,1)" font-size="19.30" font-weight="bold" fill="#000">2.0</text>
<path d="M177.9,791.30L184.8,798.50M184.8,791.30L177.9,798.50" stroke="#111" stroke-width="1.05" fill="none"/>
<text transform="translate(187.49,798.50) scale(0.7851,1)" font-size="19.30" font-weight="bold" fill="#000">10</text>
<text transform="translate(208.71,792.29) scale(0.8604,1)" font-size="11.41" font-weight="bold" fill="#000">-3</text>
<text transform="translate(153.35,756.70) scale(0.8579,1)" font-size="19.30" font-weight="bold" fill="#000">2.5</text>
<path d="M177.9,749.50L184.8,756.70M184.8,749.50L177.9,756.70" stroke="#111" stroke-width="1.05" fill="none"/>
<text transform="translate(187.49,756.70) scale(0.7851,1)" font-size="19.30" font-weight="bold" fill="#000">10</text>
<text transform="translate(208.71,750.49) scale(0.8604,1)" font-size="11.41" font-weight="bold" fill="#000">-3</text>
<text transform="translate(153.35,714.90) scale(0.8579,1)" font-size="19.30" font-weight="bold" fill="#000">3.0</text>
<path d="M177.9,707.70L184.8,714.90M184.8,707.70L177.9,714.90" stroke="#111" stroke-width="1.05" fill="none"/>
<text transform="translate(187.49,714.90) scale(0.7851,1)" font-size="19.30" font-weight="bold" fill="#000">10</text>
<text transform="translate(208.71,708.69) scale(0.8604,1)" font-size="11.41" font-weight="bold" fill="#000">-3</text>
<text transform="translate(153.35,673.10) scale(0.8579,1)" font-size="19.30" font-weight="bold" fill="#000">3.5</text>
<path d="M177.9,665.90L184.8,673.10M184.8,665.90L177.9,673.10" stroke="#111" stroke-width="1.05" fill="none"/>
<text transform="translate(187.49,673.10) scale(0.7851,1)" font-size="19.30" font-weight="bold" fill="#000">10</text>
<text transform="translate(208.71,666.89) scale(0.8604,1)" font-size="11.41" font-weight="bold" fill="#000">-3</text>
<text transform="translate(153.35,631.30) scale(0.8579,1)" font-size="19.30" font-weight="bold" fill="#000">4.0</text>
<path d="M177.9,624.10L184.8,631.30M184.8,624.10L177.9,631.30" stroke="#111" stroke-width="1.05" fill="none"/>
<text transform="translate(187.49,631.30) scale(0.7851,1)" font-size="19.30" font-weight="bold" fill="#000">10</text>
<text transform="translate(208.71,625.09) scale(0.8604,1)" font-size="11.41" font-weight="bold" fill="#000">-3</text>
<text transform="translate(206.12,965.31) scale(0.9172,1)" font-size="18.59" font-weight="bold" fill="#000">0</text>
<text transform="translate(244.31,1026.24) rotate(-90) scale(1.0000,1)" font-size="19.15" font-weight="bold" fill="#000">PBMC</text>
<text transform="translate(270.18,1012.16) rotate(-90) scale(0.9718,1)" font-size="19.71" font-weight="bold" fill="#000">PA-1</text>
<text transform="translate(295.86,1032.37) rotate(-90) scale(0.9718,1)" font-size="19.71" font-weight="bold" fill="#000">PA-1-R</text>
<text transform="translate(321.54,1011.87) rotate(-90) scale(0.9859,1)" font-size="19.43" font-weight="bold" fill="#000">PA-2</text>
<text transform="translate(347.22,1032.37) rotate(-90) scale(0.9859,1)" font-size="19.43" font-weight="bold" fill="#000">PA-2-R</text>
<text transform="translate(372.71,1011.97) rotate(-90) scale(1.0000,1)" font-size="19.15" font-weight="bold" fill="#000">PA-3</text>
<text transform="translate(398.39,1032.37) rotate(-90) scale(1.0000,1)" font-size="19.15" font-weight="bold" fill="#000">PA-3-R</text>
<text transform="translate(424.26,1012.54) rotate(-90) scale(0.9718,1)" font-size="19.71" font-weight="bold" fill="#000">PA-4</text>
<text transform="translate(449.94,1032.37) rotate(-90) scale(0.9718,1)" font-size="19.71" font-weight="bold" fill="#000">PA-4-R</text>
<text transform="translate(475.43,1012.16) rotate(-90) scale(0.9859,1)" font-size="19.43" font-weight="bold" fill="#000">PA-5</text>
<text transform="translate(501.11,1032.37) rotate(-90) scale(0.9859,1)" font-size="19.43" font-weight="bold" fill="#000">PA-5-R</text>
<text transform="translate(526.79,1011.97) rotate(-90) scale(1.0000,1)" font-size="19.15" font-weight="bold" fill="#000">PA-6</text>
<text transform="translate(552.47,1032.37) rotate(-90) scale(1.0000,1)" font-size="19.15" font-weight="bold" fill="#000">PA-6-R</text>
<text transform="translate(578.34,1011.87) rotate(-90) scale(0.9718,1)" font-size="19.71" font-weight="bold" fill="#000">PA-7</text>
<text transform="translate(604.02,1032.37) rotate(-90) scale(0.9718,1)" font-size="19.71" font-weight="bold" fill="#000">PA-7-R</text>
<text transform="translate(629.51,1012.06) rotate(-90) scale(1.0000,1)" font-size="19.15" font-weight="bold" fill="#000">PA-8</text>
<text transform="translate(655.19,1032.37) rotate(-90) scale(1.0000,1)" font-size="19.15" font-weight="bold" fill="#000">PA-8-R</text>
<text transform="translate(680.87,1011.97) rotate(-90) scale(1.0000,1)" font-size="19.15" font-weight="bold" fill="#000">PA-9</text>
<text transform="translate(706.55,1032.37) rotate(-90) scale(1.0000,1)" font-size="19.15" font-weight="bold" fill="#000">PA-9-R</text>
<text transform="translate(732.23,1022.50) rotate(-90) scale(1.0000,1)" font-size="19.15" font-weight="bold" fill="#000">PA-10</text>
<text transform="translate(757.91,1043.09) rotate(-90) scale(1.0000,1)" font-size="19.15" font-weight="bold" fill="#000">PA-10-R</text>
<text transform="translate(108.90,833.56) rotate(-90) scale(1.0700,1)" font-size="19.58" font-weight="bold" fill="#000">KCTD15</text>
<text transform="translate(131.41,891.65) rotate(-90) scale(1.1241,1)" font-size="18.50" font-weight="bold" fill="#000">Relative Expression</text>
<text transform="translate(109.01,593.00) scale(0.9537,1)" font-size="38.62" font-weight="bold" fill="#000">b</text>
<circle cx="377.4" cy="1233.6" r="9.5" fill="#A4A3A8" stroke="#000" stroke-width="3.7"/>
<circle cx="392.1" cy="1305.4" r="9.5" fill="#A4A3A8" stroke="#000" stroke-width="3.7"/>
<circle cx="362.8" cy="1333.6" r="9.5" fill="#A4A3A8" stroke="#000" stroke-width="3.7"/>
<circle cx="362.8" cy="1401.5" r="9.5" fill="#A4A3A8" stroke="#000" stroke-width="3.7"/>
<circle cx="392.1" cy="1407.9" r="9.5" fill="#A4A3A8" stroke="#000" stroke-width="3.7"/>
<circle cx="319.1" cy="1432.1" r="9.5" fill="#A4A3A8" stroke="#000" stroke-width="3.7"/>
<circle cx="348.3" cy="1434.7" r="9.5" fill="#A4A3A8" stroke="#000" stroke-width="3.7"/>
<circle cx="436.3" cy="1433.1" r="9.5" fill="#A4A3A8" stroke="#000" stroke-width="3.7"/>
<circle cx="377.4" cy="1457.8" r="9.5" fill="#A4A3A8" stroke="#000" stroke-width="3.7"/>
<circle cx="406.6" cy="1457.2" r="9.5" fill="#A4A3A8" stroke="#000" stroke-width="3.7"/>
<circle cx="582.9" cy="1507" r="11.1" fill="#000"/>
<circle cx="607" cy="1508.2" r="11.1" fill="#000"/>
<circle cx="631.7" cy="1516.2" r="11.1" fill="#000"/>
<circle cx="654.6" cy="1495.7" r="11.1" fill="#000"/>
<circle cx="656.4" cy="1527.6" r="11.1" fill="#000"/>
<circle cx="683" cy="1496.9" r="11.1" fill="#000"/>
<circle cx="681.2" cy="1522.8" r="11.1" fill="#000"/>
<circle cx="705.9" cy="1514.4" r="11.1" fill="#000"/>
<circle cx="730" cy="1508.2" r="11.1" fill="#000"/>
<circle cx="754.9" cy="1499.8" r="11.1" fill="#000"/>
<g fill="#000">
<rect x="328.7" y="1323.5" width="97.2" height="5.5"/>
<rect x="374.9" y="1324" width="5.4" height="117"/>
<rect x="280" y="1417.9" width="193.8" height="3.7"/>
<rect x="329" y="1437.6" width="96.9" height="5.3"/>
<rect x="620.3" y="1496.3" width="96.4" height="5.4"/>
<rect x="666" y="1497" width="4.9" height="21"/>
<rect x="571.6" y="1505.9" width="193.8" height="3.9"/>
<rect x="620.3" y="1514.4" width="96.4" height="5.2"/>
</g>
<line x1="231.5" y1="1150.8" x2="231.5" y2="1542.8" stroke="#000" stroke-width="3.8"/>
<line x1="229.6" y1="1541" x2="816" y2="1541" stroke="#000" stroke-width="3.8"/>
<g stroke="#000" stroke-width="3.6"><line x1="220.5" y1="1540.6" x2="231.5" y2="1540.6"/><line x1="220.5" y1="1443.6" x2="231.5" y2="1443.6"/><line x1="220.5" y1="1346.6" x2="231.5" y2="1346.6"/><line x1="220.5" y1="1249.7" x2="231.5" y2="1249.7"/><line x1="220.5" y1="1152.7" x2="231.5" y2="1152.7"/><line x1="377.1" y1="1541" x2="377.1" y2="1551.8"/><line x1="668.5" y1="1541" x2="668.5" y2="1551.8"/></g>
<text transform="translate(107.27,1452.43) scale(1.0089,1)" font-size="28.73" font-weight="bold" fill="#000">1.0</text>
<path d="M149.9,1441.22L160.8,1452.32M160.8,1441.22L149.9,1452.32" stroke="#000" stroke-width="1.25" fill="none"/>
<text transform="translate(166.48,1452.43) scale(0.9959,1)" font-size="28.73" font-weight="bold" fill="#000">10</text>
<text transform="translate(201.27,1442.06) scale(1.1410,1)" font-size="15.92" font-weight="bold" fill="#000">-3</text>
<text transform="translate(107.27,1355.45) scale(1.0089,1)" font-size="28.73" font-weight="bold" fill="#000">2.0</text>
<path d="M149.9,1344.24L160.8,1355.34M160.8,1344.24L149.9,1355.34" stroke="#000" stroke-width="1.25" fill="none"/>
<text transform="translate(166.48,1355.45) scale(0.9959,1)" font-size="28.73" font-weight="bold" fill="#000">10</text>
<text transform="translate(201.27,1345.08) scale(1.1410,1)" font-size="15.92" font-weight="bold" fill="#000">-3</text>
<text transform="translate(107.27,1258.47) scale(1.0089,1)" font-size="28.73" font-weight="bold" fill="#000">3.0</text>
<path d="M149.9,1247.26L160.8,1258.36M160.8,1247.26L149.9,1258.36" stroke="#000" stroke-width="1.25" fill="none"/>
<text transform="translate(166.48,1258.47) scale(0.9959,1)" font-size="28.73" font-weight="bold" fill="#000">10</text>
<text transform="translate(201.27,1248.10) scale(1.1410,1)" font-size="15.92" font-weight="bold" fill="#000">-3</text>
<text transform="translate(107.27,1161.49) scale(1.0089,1)" font-size="28.73" font-weight="bold" fill="#000">4.0</text>
<path d="M149.9,1150.28L160.8,1161.38M160.8,1150.28L149.9,1161.38" stroke="#000" stroke-width="1.25" fill="none"/>
<text transform="translate(166.48,1161.49) scale(0.9959,1)" font-size="28.73" font-weight="bold" fill="#000">10</text>
<text transform="translate(201.27,1151.12) scale(1.1410,1)" font-size="15.92" font-weight="bold" fill="#000">-3</text>
<text transform="translate(197.88,1550.11) scale(1.0624,1)" font-size="28.73" font-weight="bold" fill="#000">0</text>
<text transform="translate(307.21,1581.60) scale(1.0316,1)" font-size="28.14" font-weight="bold" fill="#000">Diagnosis</text>
<text transform="translate(616.39,1581.80) scale(0.9996,1)" font-size="29.43" font-weight="bold" fill="#000">Day+33</text>
<text transform="translate(24.27,1407.68) rotate(-90) scale(0.9668,1)" font-size="33.10" font-weight="bold" fill="#000">KCTD15</text>
<text transform="translate(62.78,1496.87) rotate(-90) scale(0.9948,1)" font-size="31.98" font-weight="bold" fill="#000">Relative Expression</text>
<text transform="translate(488.91,1145.00) scale(1.0186,1)" font-size="30.00" font-weight="bold" fill="#000">p=0,002</text>
<text transform="translate(74.97,1121.70) scale(0.8213,1)" font-size="37.41" font-weight="bold" fill="#000">c</text>
<g stroke="#111" stroke-width="1.7"><line x1="711.7" y1="1138.2" x2="711.7" y2="1332.6"/><line x1="824.8" y1="1138.2" x2="824.8" y2="1332.6"/><line x1="910.4" y1="1138.2" x2="910.4" y2="1332.6"/><line x1="993" y1="1138.2" x2="993" y2="1332.6"/><line x1="710.9000000000001" y1="1139" x2="993.8" y2="1139"/><line x1="710.9000000000001" y1="1163" x2="993.8" y2="1163"/><line x1="710.9000000000001" y1="1187" x2="993.8" y2="1187"/><line x1="710.9000000000001" y1="1235.3" x2="993.8" y2="1235.3"/><line x1="710.9000000000001" y1="1260.3" x2="993.8" y2="1260.3"/><line x1="710.9000000000001" y1="1307.3" x2="993.8" y2="1307.3"/><line x1="710.9000000000001" y1="1331.8" x2="993.8" y2="1331.8"/></g>
<text transform="translate(749.74,1157.80) scale(1.1193,1)" font-size="16.00" font-weight="bold" fill="#111">n=10</text>
<text transform="translate(828.02,1158.00) scale(0.9759,1)" font-size="16.97" font-weight="bold" fill="#111">Diagnosis</text>
<text transform="translate(918.27,1158.00) scale(0.9894,1)" font-size="17.57" font-weight="bold" fill="#111">Day +33</text>
<text transform="translate(726.88,1182.40) scale(1.0806,1)" font-size="17.38" font-weight="bold" fill="#111">Minimum</text>
<text transform="translate(831.48,1182.10) scale(0.9940,1)" font-size="17.57" font-weight="bold" fill="#111">8,62E-04</text>
<text transform="translate(916.05,1182.10) scale(0.9915,1)" font-size="17.57" font-weight="bold" fill="#111">1,48E-04</text>
<text transform="translate(750.28,1206.40) scale(0.9717,1)" font-size="18.14" font-weight="bold" fill="#111">25%</text>
<text transform="translate(726.27,1230.00) scale(0.9150,1)" font-size="19.03" font-weight="bold" fill="#111">Percentile</text>
<text transform="translate(830.94,1218.30) scale(1.0090,1)" font-size="17.57" font-weight="bold" fill="#111">1,04E-03</text>
<text transform="translate(915.79,1218.30) scale(0.9952,1)" font-size="17.57" font-weight="bold" fill="#111">2,44E-04</text>
<text transform="translate(735.57,1254.50) scale(1.1077,1)" font-size="17.10" font-weight="bold" fill="#111">Median</text>
<text transform="translate(830.93,1254.50) scale(1.0066,1)" font-size="17.71" font-weight="bold" fill="#111">1,25E-03</text>
<text transform="translate(915.86,1254.50) scale(1.0016,1)" font-size="17.71" font-weight="bold" fill="#111">3,39E-04</text>
<text transform="translate(750.60,1279.00) scale(0.9848,1)" font-size="17.84" font-weight="bold" fill="#111">75%</text>
<text transform="translate(725.55,1301.50) scale(0.9285,1)" font-size="19.03" font-weight="bold" fill="#111">Percentile</text>
<text transform="translate(831.38,1290.00) scale(1.0084,1)" font-size="17.57" font-weight="bold" fill="#111">2,21E-03</text>
<text transform="translate(916.03,1290.00) scale(1.0072,1)" font-size="17.57" font-weight="bold" fill="#111">4,31E-04</text>
<text transform="translate(724.69,1326.60) scale(1.0886,1)" font-size="17.10" font-weight="bold" fill="#111">Maximum</text>
<text transform="translate(831.56,1326.60) scale(0.9978,1)" font-size="17.71" font-weight="bold" fill="#111">3,17E-03</text>
<text transform="translate(916.03,1326.60) scale(0.9991,1)" font-size="17.71" font-weight="bold" fill="#111">4,68E-04</text>
</svg>
</body></html>
